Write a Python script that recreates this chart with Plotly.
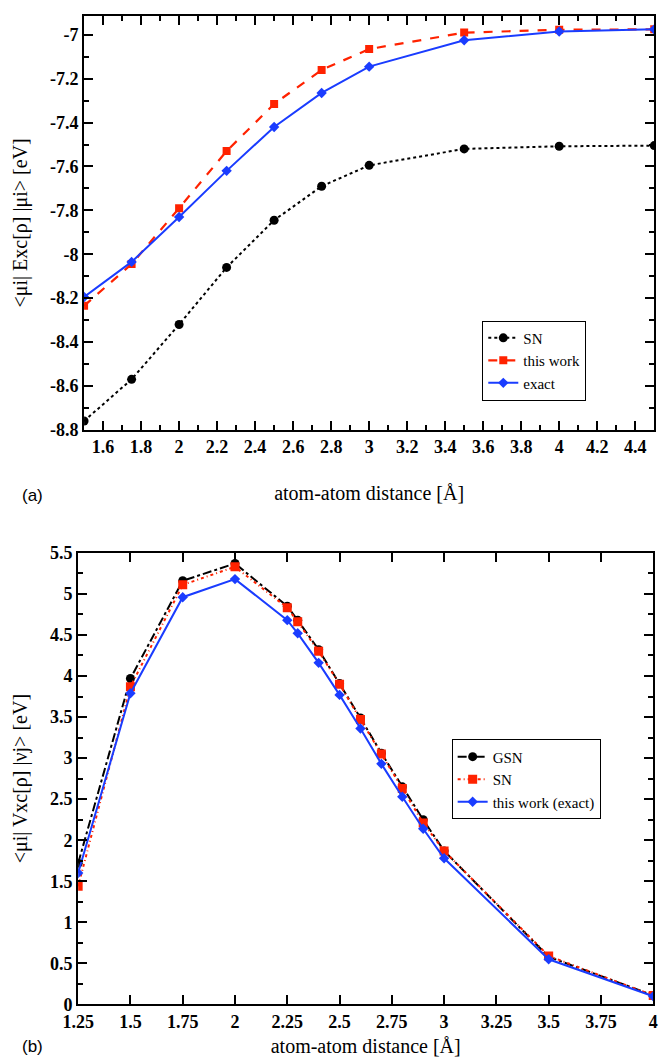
import plotly.graph_objects as go

# Panel (a)
xa = [1.5, 1.75, 2, 2.25, 2.5, 2.75, 3, 3.5, 4, 4.5]
a_sn = [-8.76, -8.57, -8.32, -8.06, -7.845, -7.69, -7.595, -7.52, -7.508, -7.505]
a_thiswork = [-8.235, -8.045, -7.79, -7.53, -7.315, -7.16, -7.065, -6.99, -6.977, -6.975]
a_exact = [-8.195, -8.035, -7.83, -7.62, -7.42, -7.265, -7.145, -7.025, -6.985, -6.975]

# Panel (b)
xb = [1.25, 1.5, 1.75, 2, 2.25, 2.3, 2.4, 2.5, 2.6, 2.7, 2.8, 2.9, 3, 3.5, 4]
b_gsn = [1.72, 3.97, 5.16, 5.37, 4.85, 4.68, 4.32, 3.91, 3.49, 3.06, 2.65, 2.25, 1.87, 0.58, 0.11]
b_sn = [1.44, 3.87, 5.11, 5.33, 4.83, 4.66, 4.30, 3.90, 3.47, 3.05, 2.63, 2.21, 1.87, 0.59, 0.11]
b_exact = [1.60, 3.79, 4.96, 5.18, 4.68, 4.52, 4.16, 3.77, 3.36, 2.93, 2.53, 2.14, 1.78, 0.55, 0.10]

RED = "#ff2200"
BLUE = "#1a3cff"
SERIF = "Liberation Serif"

fig = go.Figure()
fig.add_trace(go.Scatter(x=xa, y=a_sn, name="SN", mode="lines+markers",
                         line=dict(color="black", dash="dot", width=2),
                         marker=dict(symbol="circle", size=9, color="black"),
                         xaxis="x", yaxis="y", legend="legend"))
fig.add_trace(go.Scatter(x=xa, y=a_thiswork, name="this work", mode="lines+markers",
                         line=dict(color=RED, dash="dash", width=2.2),
                         marker=dict(symbol="square", size=8, color=RED),
                         xaxis="x", yaxis="y", legend="legend"))
fig.add_trace(go.Scatter(x=xa, y=a_exact, name="exact", mode="lines+markers",
                         line=dict(color=BLUE, width=2),
                         marker=dict(symbol="diamond", size=8, color=BLUE),
                         xaxis="x", yaxis="y", legend="legend"))

fig.add_trace(go.Scatter(x=xb, y=b_gsn, name="GSN", mode="lines+markers",
                         line=dict(color="black", dash="dashdot", width=2),
                         marker=dict(symbol="circle", size=9, color="black"),
                         xaxis="x2", yaxis="y2", legend="legend2"))
fig.add_trace(go.Scatter(x=xb, y=b_sn, name="SN", mode="lines+markers",
                         line=dict(color=RED, dash="3px,3px,1px,3px", width=2),
                         marker=dict(symbol="square", size=9, color=RED),
                         xaxis="x2", yaxis="y2", legend="legend2"))
fig.add_trace(go.Scatter(x=xb, y=b_exact, name="this work (exact)", mode="lines+markers",
                         line=dict(color=BLUE, width=2),
                         marker=dict(symbol="diamond", size=8, color=BLUE),
                         xaxis="x2", yaxis="y2", legend="legend2"))

# figure sized to fit the page next to the default body margin
W, H = 664, 1051
RW, RH = 672, 1059


def px(v):
    return v / RW


def py(v):
    return 1 - v / RH


tickfont = dict(family=SERIF, size=18, color="black", weight="bold")
titlefont = dict(family=SERIF, size=20, color="black")

common = dict(showline=True, linecolor="black", linewidth=2, mirror="allticks",
              ticks="inside", ticklen=9, tickwidth=2, tickcolor="black",
              showgrid=False, zeroline=False, tickfont=tickfont, automargin=False)

fig.update_layout(
    width=W, height=H,
    margin=dict(l=0, r=0, t=0, b=0, autoexpand=False),
    paper_bgcolor="white", plot_bgcolor="white",
    showlegend=True,
    xaxis=dict(domain=[px(77), px(654)], range=[1.5, 4.5], anchor="y",
               tickvals=[1.6, 1.8, 2, 2.2, 2.4, 2.6, 2.8, 3, 3.2, 3.4, 3.6, 3.8, 4, 4.2, 4.4],
               ticktext=["1.6", "1.8", "2", "2.2", "2.4", "2.6", "2.8", "3", "3.2", "3.4", "3.6", "3.8", "4", "4.2", "4.4"],
               minor=dict(dtick=0.1, ticks="inside", ticklen=5, tickwidth=2, tickcolor="black"),
               title=dict(text="atom-atom distance [Å]", font=titlefont, standoff=30),
               **common),
    yaxis=dict(domain=[py(425), py(8)], range=[-8.8, -6.914], anchor="x",
               tickvals=[-8.8, -8.6, -8.4, -8.2, -8, -7.8, -7.6, -7.4, -7.2, -7],
               ticktext=["-8.8", "-8.6", "-8.4", "-8.2", "-8", "-7.8", "-7.6", "-7.4", "-7.2", "-7"],
               minor=dict(dtick=0.1, ticks="inside", ticklen=5, tickwidth=2, tickcolor="black"),
               title=dict(text="<μi| Exc[ρ] |μi> [eV]", font=titlefont, standoff=17),
               **common),
    xaxis2=dict(domain=[px(71), px(653)], range=[1.25, 4], anchor="y2",
                tickvals=[1.25, 1.5, 1.75, 2, 2.25, 2.5, 2.75, 3, 3.25, 3.5, 3.75, 4],
                ticktext=["1.25", "1.5", "1.75", "2", "2.25", "2.5", "2.75", "3", "3.25", "3.5", "3.75", "4"],
                title=dict(text="atom-atom distance [Å]", font=titlefont, standoff=8),
                **common),
    yaxis2=dict(domain=[py(1004), py(549)], range=[0, 5.5], anchor="x2",
                tickvals=[0, 0.5, 1, 1.5, 2, 2.5, 3, 3.5, 4, 4.5, 5, 5.5],
                ticktext=["0", "0.5", "1", "1.5", "2", "2.5", "3", "3.5", "4", "4.5", "5", "5.5"],
                minor=dict(dtick=0.25, ticks="inside", ticklen=5, tickwidth=2, tickcolor="black"),
                title=dict(text="<μi| Vxc[ρ] |νj> [eV]", font=titlefont, standoff=17),
                **common),
    legend=dict(x=px(480), y=py(315), xanchor="left", yanchor="top",
                bordercolor="black", borderwidth=1, bgcolor="white",
                font=dict(family=SERIF, size=15, color="black"),
                tracegroupgap=0, itemwidth=30),
    legend2=dict(x=px(449), y=py(737), xanchor="left", yanchor="top",
                 bordercolor="black", borderwidth=1, bgcolor="white",
                 font=dict(family=SERIF, size=15, color="black"),
                 tracegroupgap=0, itemwidth=30),
    annotations=[
        dict(text="(a)", x=px(12), y=py(491), xref="paper", yref="paper",
             xanchor="left", yanchor="middle", showarrow=False,
             font=dict(family="Liberation Sans", size=17, color="black")),
        dict(text="(b)", x=px(12), y=py(1046), xref="paper", yref="paper",
             xanchor="left", yanchor="middle", showarrow=False,
             font=dict(family="Liberation Sans", size=17, color="black")),
    ],
)

fig.write_html("out.html")
